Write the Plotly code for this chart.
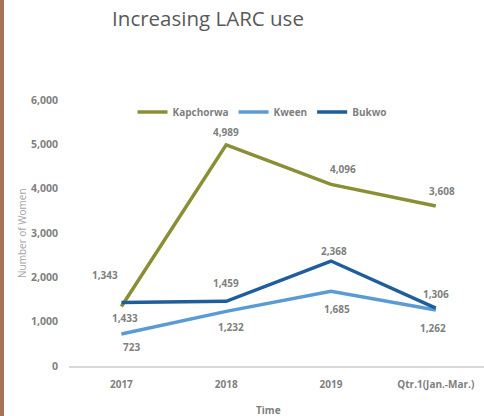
import plotly.graph_objects as go

categories = ["2017", "2018", "2019", "Qtr.1(Jan.-Mar.)"]
kapchorwa = [1343, 4989, 4096, 3608]
kween = [723, 1232, 1685, 1262]
bukwo = [1433, 1459, 2368, 1306]
y_ticks = [0, 1000, 2000, 3000, 4000, 5000, 6000]

series = [
    ("Kapchorwa", kapchorwa, "#8A8F35", [(-16, 31), (0, 13), (12, 15), (6, 15)]),
    ("Kween", kween, "#5B9BD5", [(10, -13), (5, -16), (6, -18), (-3, -18)]),
    ("Bukwo", bukwo, "#1F5E9B", [(4, -16), (0, 18), (3, 10), (0, 14)]),
]

W, H, L, R, T, B = 484, 416, 69, 0, 100, 50
pw = W - L - R


def px_to_paper_x(px):
    return (px - L) / pw


def px_to_paper_y(py):
    return (H - B - py) / (H - T - B)


fig = go.Figure()
annotations = []
label_font = dict(family="Open Sans", size=10, color="#7f7f7f")
for name, vals, color, offs in series:
    fig.add_trace(go.Scatter(x=list(range(len(categories))), y=vals, name=f"<b>{name}</b>",
                             mode="lines", line=dict(color=color, width=3.5)))
    for i, (v, (dx, dy)) in enumerate(zip(vals, offs)):
        annotations.append(dict(x=i, y=v, xref="x", yref="y", text=f"<b>{v:,}</b>",
                                showarrow=False, xshift=dx, yshift=dy,
                                font=label_font))

annotations.append(dict(text="Number of Women", x=px_to_paper_x(22), y=px_to_paper_y(233),
                        xref="paper", yref="paper", showarrow=False, textangle=-90,
                        xanchor="center", yanchor="middle",
                        font=dict(family="Open Sans", size=10, color="#a6a6a6")))
annotations.append(dict(text="<b>Time</b>", x=px_to_paper_x(268), y=px_to_paper_y(410),
                        xref="paper", yref="paper", showarrow=False,
                        xanchor="center", yanchor="middle",
                        font=dict(family="Open Sans", size=10, color="#7f7f7f")))

fig.update_layout(
    width=W, height=H,
    margin=dict(l=L, r=R, t=T, b=B),
    paper_bgcolor="white", plot_bgcolor="white",
    title=dict(text="Increasing LARC use", x=208 / W, xref="container", xanchor="center",
               y=1 - 19 / H, yref="container", yanchor="middle",
               font=dict(family="Open Sans", size=20.5, color="#595959")),
    showlegend=True,
    legend=dict(orientation="h", x=px_to_paper_x(262), xanchor="center",
                y=px_to_paper_y(112), yanchor="middle",
                font=dict(family="Open Sans", size=10, color="#7f7f7f"),
                itemwidth=30, tracegroupgap=0),
    annotations=annotations,
    shapes=[dict(type="rect", xref="paper", yref="paper",
                 x0=px_to_paper_x(0), x1=px_to_paper_x(4), y0=px_to_paper_y(416), y1=px_to_paper_y(0),
                 fillcolor="#A5735A", line=dict(width=0), layer="above")],
)
fig.update_xaxes(range=[-0.5, -0.5 + pw / 104.8],
                 tickvals=list(range(len(categories))),
                 ticktext=[f"<b>{c}</b>" for c in categories],
                 showgrid=False, zeroline=False, showline=True, linecolor="#d9d9d9", linewidth=2,
                 ticks="", tickfont=dict(family="Open Sans", size=10, color="#7f7f7f"),
                 ticklabelstandoff=8)
fig.update_yaxes(range=[0, 6000], tickvals=y_ticks, ticktext=[f"<b>{v:,}</b>" for v in y_ticks],
                 showgrid=False, zeroline=False, showline=False,
                 tickfont=dict(family="Open Sans", size=10.5, color="#7f7f7f"),
                 ticklabelstandoff=10)

fig.write_html("out.html", config={"displayModeBar": False},
               post_script="document.body.style.margin='0';document.body.style.padding='0';")
